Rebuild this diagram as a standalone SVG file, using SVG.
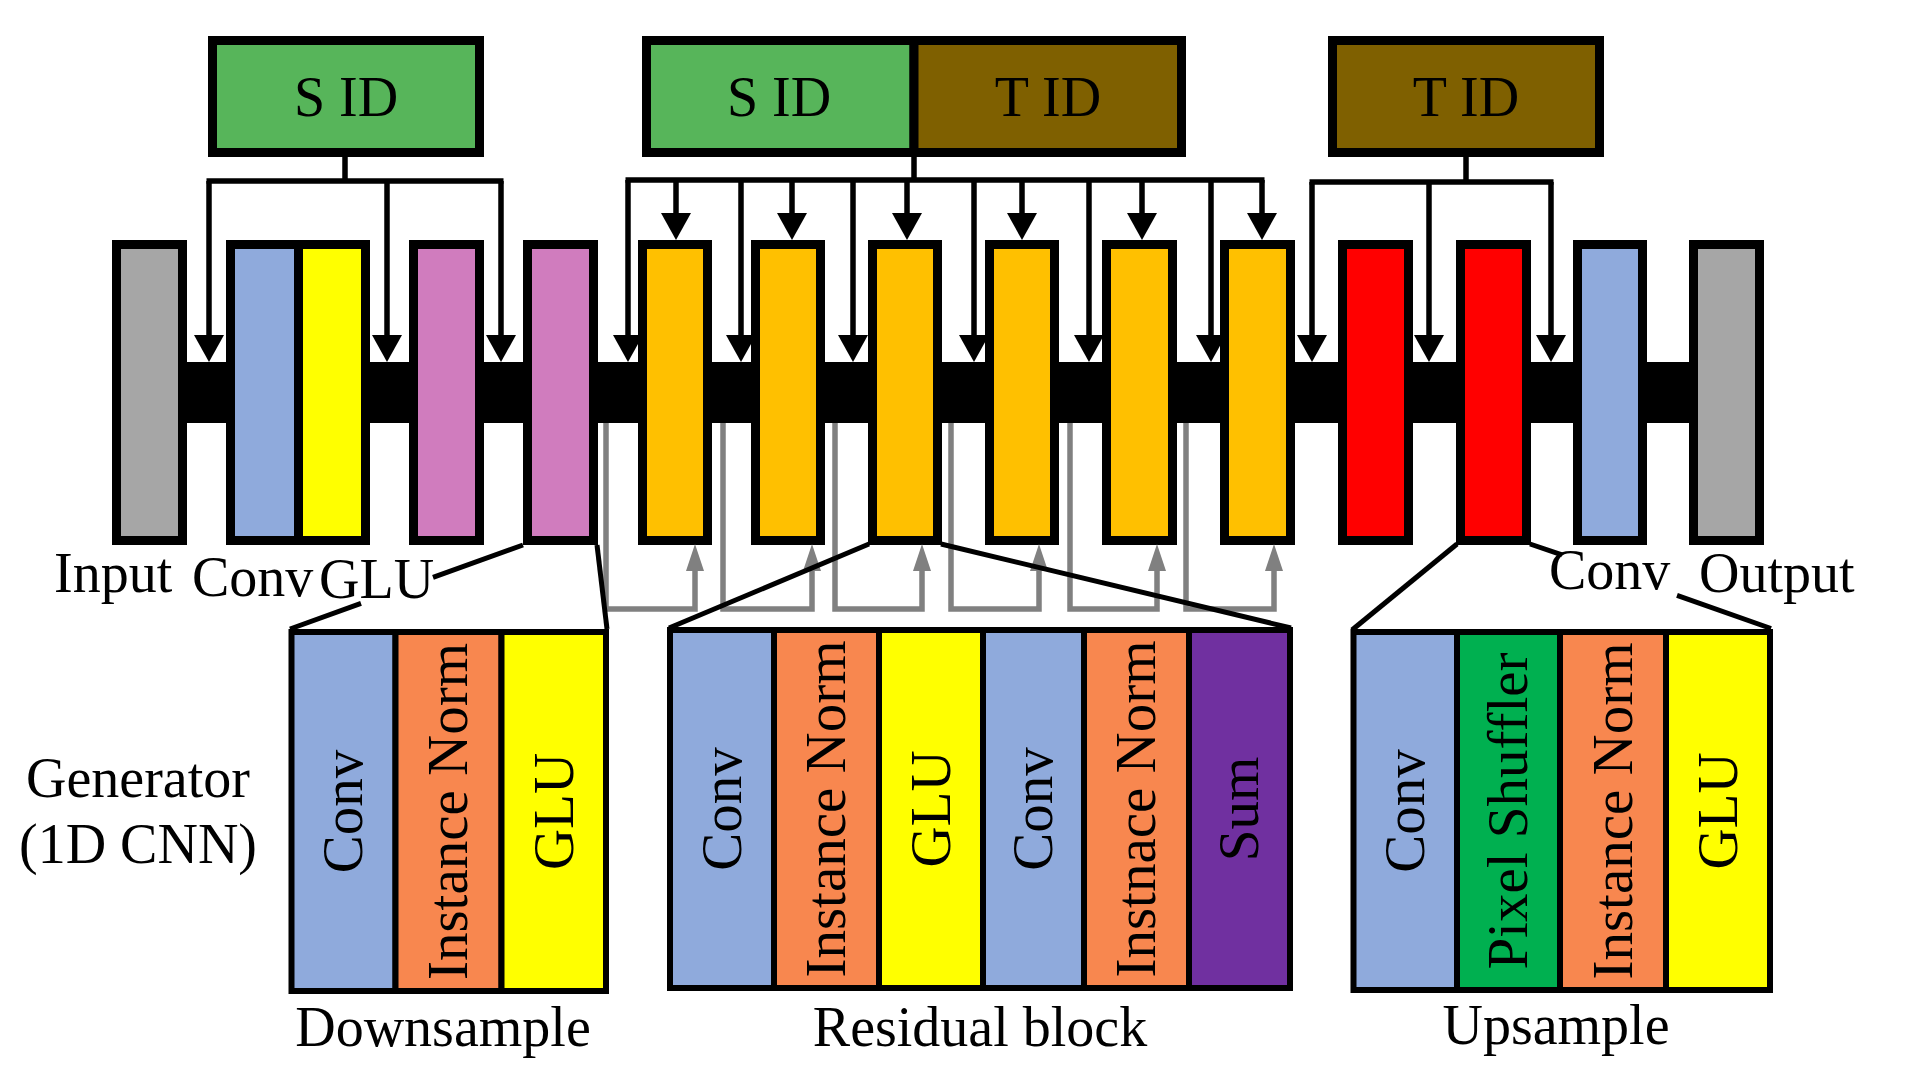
<svg xmlns="http://www.w3.org/2000/svg" width="1920" height="1080" viewBox="0 0 1920 1080">
<style>
.blk{stroke:#000;stroke-width:9}
.sub{stroke:#000;stroke-width:6}
.lbl{font-family:"Liberation Serif","Times New Roman",serif;font-size:56px;fill:#000}
.vt{font-family:"Liberation Serif","Times New Roman",serif;font-size:57px;fill:#000;text-anchor:middle}
.ar{fill:none;stroke:#000;stroke-width:5.5}
.gr{fill:none;stroke:#808080;stroke-width:5.5}
.zl{fill:none;stroke:#000;stroke-width:5}
.gray{fill:#A6A6A6}.blue{fill:#8FAADC}.yel{fill:#FFFF00}.pink{fill:#D07CBE}.org{fill:#FFC000}.red{fill:#FF0000}
.sal{fill:#F8874F}.pur{fill:#7030A0}.grn{fill:#00B050}.sid{fill:#57B55A}.tid{fill:#7F6000}
</style>
<defs>
<marker id="ab" markerUnits="userSpaceOnUse" markerWidth="27" markerHeight="30" refX="7" refY="15" orient="auto"><path d="M0,0 L27,15 L0,30 z" fill="#000"/></marker>
<marker id="ag" markerUnits="userSpaceOnUse" markerWidth="27" markerHeight="18" refX="7" refY="9" orient="auto"><path d="M0,0 L27,9 L0,18 z" fill="#808080"/></marker>
</defs>
<rect width="1920" height="1080" fill="#fff"/>

<g id="bar"><rect x="150" y="362" width="1576" height="61" fill="#000"/></g>

<g id="sid1"><rect class="blk sid" x="212.5" y="40.5" width="267" height="112"/><text class="lbl" x="346" y="116" text-anchor="middle">S ID</text></g>
<g id="stid"><rect class="blk sid" x="646.5" y="40.5" width="267.5" height="112"/><rect class="blk tid" x="914" y="40.5" width="267.5" height="112"/>
<text class="lbl" x="779" y="116" text-anchor="middle">S ID</text><text class="lbl" x="1048" y="116" text-anchor="middle">T ID</text></g>
<g id="tid2"><rect class="blk tid" x="1332.5" y="40.5" width="267" height="112"/><text class="lbl" x="1466" y="116" text-anchor="middle">T ID</text></g>

<g id="input"><rect class="blk gray" x="116.5" y="244.5" width="66" height="296"/></g>
<g id="conv1"><rect class="blk blue" x="230.5" y="244.5" width="68" height="296"/></g>
<g id="glu1"><rect class="blk yel" x="298.5" y="244.5" width="67" height="296"/></g>
<g id="down1"><rect class="blk pink" x="413.5" y="244.5" width="66" height="296"/></g>
<g id="down2"><rect class="blk pink" x="527.5" y="244.5" width="66" height="296"/></g>
<g id="res1"><rect class="blk org" x="642.5" y="244.5" width="65" height="296"/></g>
<g id="res2"><rect class="blk org" x="755.5" y="244.5" width="65" height="296"/></g>
<g id="res3"><rect class="blk org" x="872.5" y="244.5" width="65" height="296"/></g>
<g id="res4"><rect class="blk org" x="989.5" y="244.5" width="65" height="296"/></g>
<g id="res5"><rect class="blk org" x="1106.5" y="244.5" width="66" height="296"/></g>
<g id="res6"><rect class="blk org" x="1224.5" y="244.5" width="66" height="296"/></g>
<g id="up1"><rect class="blk red" x="1342.5" y="244.5" width="66" height="296"/></g>
<g id="up2"><rect class="blk red" x="1460.5" y="244.5" width="66" height="296"/></g>
<g id="conv2"><rect class="blk blue" x="1577.5" y="244.5" width="65" height="296"/></g>
<g id="output"><rect class="blk gray" x="1693.5" y="244.5" width="66" height="296"/></g>

<g id="labels">
<text class="lbl" x="54" y="592">Input</text>
<text class="lbl" x="192" y="596">Conv</text>
<text class="lbl" x="319" y="598">GLU</text>
<text class="lbl" x="1549" y="589">Conv</text>
<text class="lbl" x="1699" y="592">Output</text>
<text class="lbl" x="138" y="797" text-anchor="middle">Generator</text>
<text class="lbl" x="138" y="863" text-anchor="middle">(1D CNN)</text>
</g>

<g id="downsample">
<rect class="sub blue" x="291.5" y="632" width="104" height="359"/>
<rect class="sub sal" x="395.5" y="632" width="106" height="359"/>
<rect class="sub yel" x="501.5" y="632" width="104.5" height="359"/>
<text class="vt" transform="translate(343.5,811.5) rotate(-90)" dy="0.33em">Conv</text>
<text class="vt" transform="translate(448.5,811.5) rotate(-90)" dy="0.33em">Instance Norm</text>
<text class="vt" transform="translate(553.75,811.5) rotate(-90)" dy="0.33em">GLU</text>
<text class="lbl" x="443" y="1046" text-anchor="middle">Downsample</text>
</g>

<g id="residual">
<rect class="sub blue" x="670" y="630" width="104" height="358"/>
<rect class="sub sal" x="774" y="630" width="105" height="358"/>
<rect class="sub yel" x="879" y="630" width="104" height="358"/>
<rect class="sub blue" x="983" y="630" width="101" height="358"/>
<rect class="sub sal" x="1084" y="630" width="105" height="358"/>
<rect class="sub pur" x="1189" y="630" width="101" height="358"/>
<text class="vt" transform="translate(722,809) rotate(-90)" dy="0.33em">Conv</text>
<text class="vt" transform="translate(826.5,809) rotate(-90)" dy="0.33em">Instance Norm</text>
<text class="vt" transform="translate(931,809) rotate(-90)" dy="0.33em">GLU</text>
<text class="vt" transform="translate(1033.5,809) rotate(-90)" dy="0.33em">Conv</text>
<text class="vt" transform="translate(1136.5,809) rotate(-90)" dy="0.33em">Instnace Norm</text>
<text class="vt" transform="translate(1239.5,809) rotate(-90)" dy="0.33em">Sum</text>
<text class="lbl" x="980" y="1046" text-anchor="middle">Residual block</text>
</g>

<g id="upsample">
<rect class="sub blue" x="1353.5" y="632" width="103.5" height="358"/>
<rect class="sub grn" x="1457" y="632" width="103" height="358"/>
<rect class="sub sal" x="1560" y="632" width="106" height="358"/>
<rect class="sub yel" x="1666" y="632" width="104" height="358"/>
<text class="vt" transform="translate(1405,811) rotate(-90)" dy="0.33em">Conv</text>
<text class="vt" transform="translate(1508.5,811) rotate(-90)" dy="0.33em">Pixel Shuffler</text>
<text class="vt" transform="translate(1613,811) rotate(-90)" dy="0.33em">Instance Norm</text>
<text class="vt" transform="translate(1718,811) rotate(-90)" dy="0.33em">GLU</text>
<text class="lbl" x="1556" y="1044" text-anchor="middle">Upsample</text>
</g>

<g id="connectors">
<path class="ar" d="M345,157 V181 M206.5,181 H503.5"/>
<path class="ar" d="M209,181 V342" marker-end="url(#ab)"/>
<path class="ar" d="M387,181 V342" marker-end="url(#ab)"/>
<path class="ar" d="M501,181 V342" marker-end="url(#ab)"/>
<path class="ar" d="M914,157 V180 M625.5,180 H1264.5"/>
<path class="ar" d="M628,180 V342" marker-end="url(#ab)"/>
<path class="ar" d="M741,180 V342" marker-end="url(#ab)"/>
<path class="ar" d="M853,180 V342" marker-end="url(#ab)"/>
<path class="ar" d="M974,180 V342" marker-end="url(#ab)"/>
<path class="ar" d="M1089,180 V342" marker-end="url(#ab)"/>
<path class="ar" d="M1211,180 V342" marker-end="url(#ab)"/>
<path class="ar" d="M676,180 V220" marker-end="url(#ab)"/>
<path class="ar" d="M792,180 V220" marker-end="url(#ab)"/>
<path class="ar" d="M907,180 V220" marker-end="url(#ab)"/>
<path class="ar" d="M1022,180 V220" marker-end="url(#ab)"/>
<path class="ar" d="M1142,180 V220" marker-end="url(#ab)"/>
<path class="ar" d="M1262,180 V220" marker-end="url(#ab)"/>
<path class="ar" d="M1466,157 V182 M1309.5,182 H1553.5"/>
<path class="ar" d="M1312,182 V342" marker-end="url(#ab)"/>
<path class="ar" d="M1429,182 V342" marker-end="url(#ab)"/>
<path class="ar" d="M1551,182 V342" marker-end="url(#ab)"/>
<path class="gr" d="M606,423 V609 H695 V564" marker-end="url(#ag)"/>
<path class="gr" d="M723,423 V609 H812 V564" marker-end="url(#ag)"/>
<path class="gr" d="M835,423 V609 H922 V564" marker-end="url(#ag)"/>
<path class="gr" d="M951,423 V609 H1039 V564" marker-end="url(#ag)"/>
<path class="gr" d="M1070,423 V609 H1157 V564" marker-end="url(#ag)"/>
<path class="gr" d="M1186,423 V609 H1274 V564" marker-end="url(#ag)"/>
<path class="zl" d="M523,545 L433,577.4 M361,603.4 L290,629"/>
<path class="zl" d="M597,545 L607,629"/>
<path class="zl" d="M869,544 L669,628"/>
<path class="zl" d="M941,544 L1291,628"/>
<path class="zl" d="M1457,544 L1352,630"/>
<path class="zl" d="M1530,544 L1562,554.9 M1677,595.4 L1771,628.5"/>
</g>
</svg>
